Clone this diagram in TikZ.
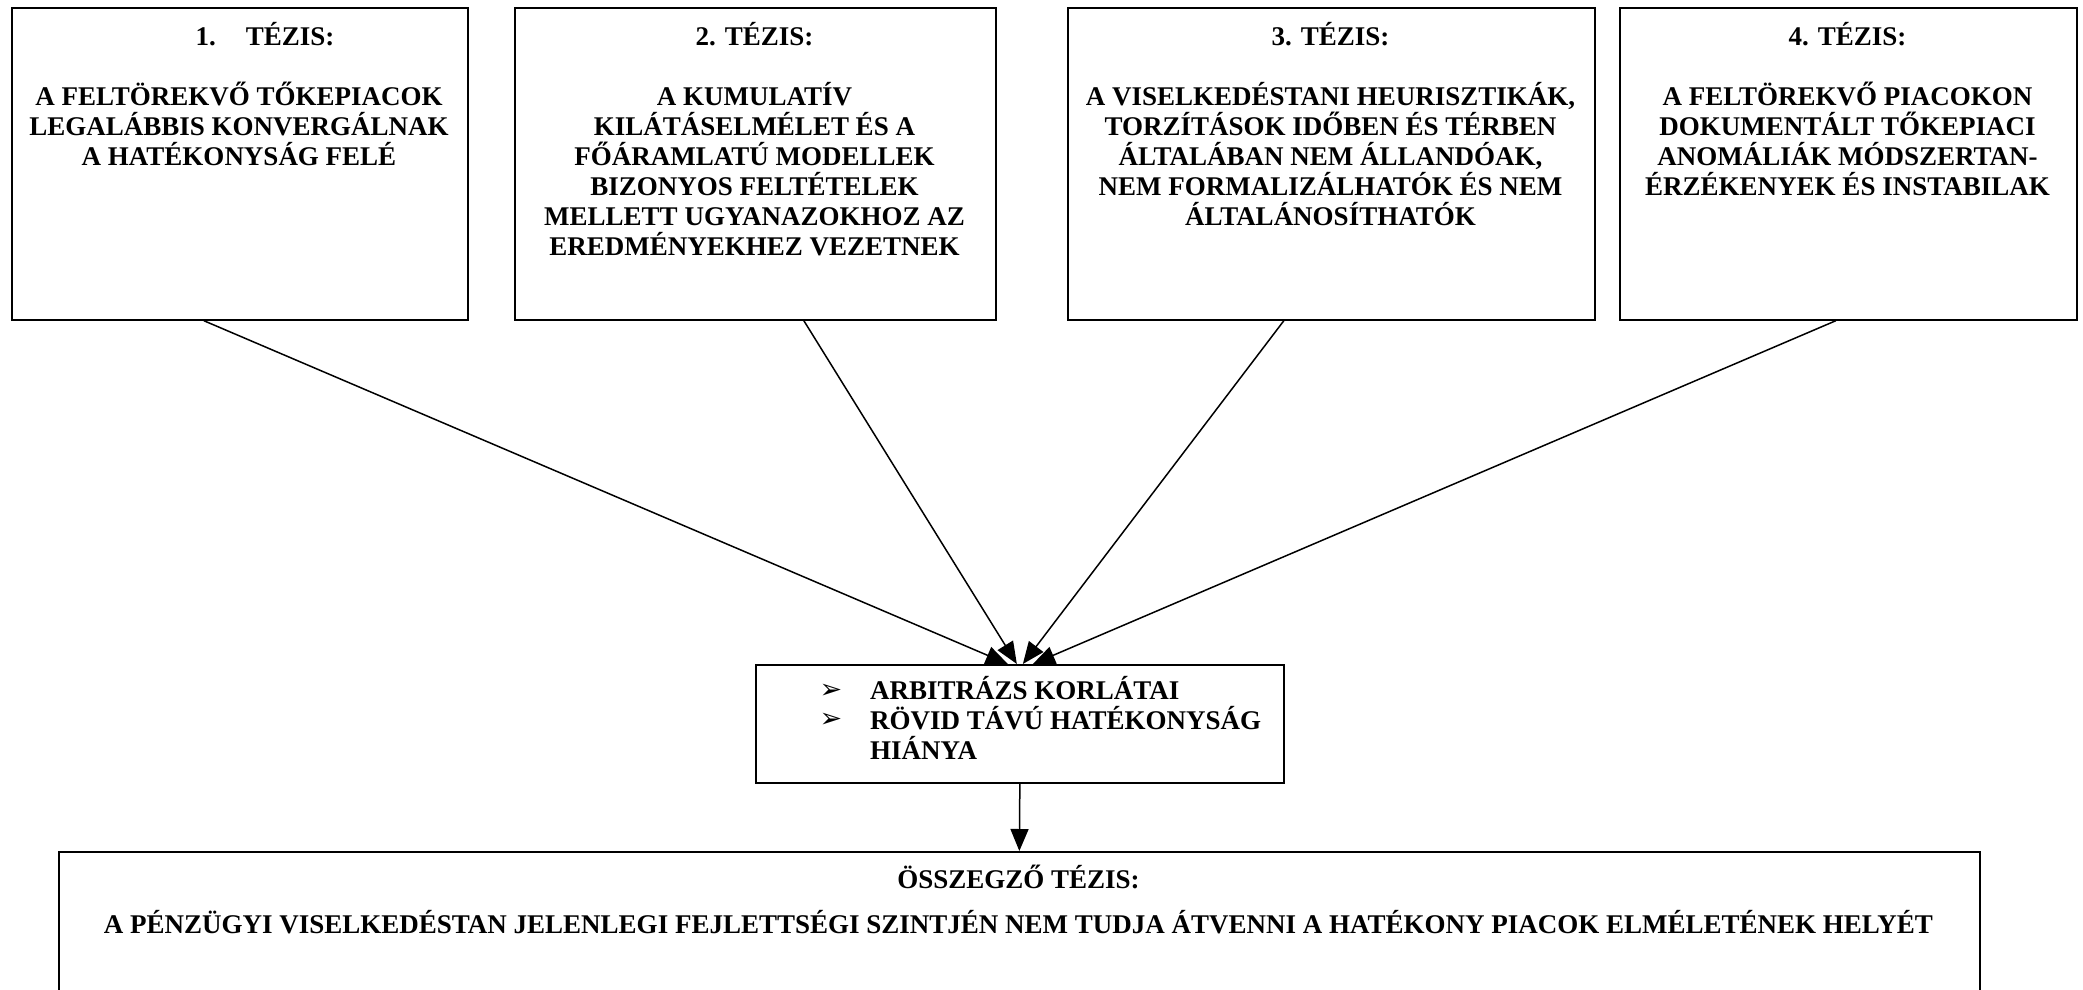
\documentclass[tikz,border=0pt]{standalone}
\usepackage{fontspec}
\setmainfont{Liberation Serif}
\newfontfamily\dejavu{DejaVu Sans}
\usetikzlibrary{arrows.meta,calc}
\newcommand{\tallstrut}{\rule{0pt}{26pt}}
\begin{document}
\begin{tikzpicture}[x=1pt,y=1pt,
  box/.style={draw, line width=1.7pt, inner sep=0pt, anchor=north west},
  txt/.style={inner sep=0pt, align=center, font=\bfseries\fontsize{27}{30}\selectfont},
  ltxt/.style={inner sep=0pt, align=left, font=\bfseries\fontsize{27}{30}\selectfont},
  bullet/.style={inner sep=0pt, font=\dejavu\fontsize{27}{30}\selectfont},
  arr/.style={line width=1.5pt, -{Triangle[length=22pt,width=18pt]}}]
\useasboundingbox (0,0) rectangle (2083,-990);

% boxes
\node[box, minimum width=456pt, minimum height=312pt] (b1) at (11,-7) {};
\node[box, minimum width=481pt, minimum height=312pt] (b2) at (514,-7) {};
\node[box, minimum width=527pt, minimum height=312pt] (b3) at (1067,-7) {};
\node[box, minimum width=457pt, minimum height=312pt] (b4) at (1619,-7) {};
\node[box, minimum width=528pt, minimum height=118pt] (mid) at (755,-664) {};
\node[box, minimum width=1921pt, minimum height=160pt] (sum) at (58,-851) {};

% headings
\node[txt, anchor=base] (h1) at (265,-46) {1.\hspace{30pt}TÉZIS:};
\node[txt, anchor=base] (h2) at (754.5,-46) {2. TÉZIS:};
\node[txt, anchor=base] (h3) at (1330.5,-46) {3. TÉZIS:};
\node[txt, anchor=base] (h4) at (1847.5,-46) {4. TÉZIS:};

% bodies
\node[txt, anchor=north] (t1) at (239,-79.5) {\tallstrut A FELTÖREKVŐ TŐKEPIACOK\\LEGALÁBBIS KONVERGÁLNAK\\A HATÉKONYSÁG FELÉ};
\node[txt, anchor=north] (t2) at (754.5,-79.5) {\tallstrut A KUMULATÍV\\KILÁTÁSELMÉLET ÉS A\\FŐÁRAMLATÚ MODELLEK\\BIZONYOS FELTÉTELEK\\MELLETT UGYANAZOKHOZ AZ\\EREDMÉNYEKHEZ VEZETNEK};
\node[txt, anchor=north] (t3) at (1330.5,-79.5) {\tallstrut A VISELKEDÉSTANI HEURISZTIKÁK,\\TORZÍTÁSOK IDŐBEN ÉS TÉRBEN\\ÁLTALÁBAN NEM ÁLLANDÓAK,\\NEM FORMALIZÁLHATÓK ÉS NEM\\ÁLTALÁNOSÍTHATÓK};
\node[txt, anchor=north] (t4) at (1847.5,-79.5) {\tallstrut A FELTÖREKVŐ PIACOKON\\DOKUMENTÁLT TŐKEPIACI\\ANOMÁLIÁK MÓDSZERTAN-\\ÉRZÉKENYEK ÉS INSTABILAK};

% middle box content
\node[bullet, anchor=base] (m1) at (831,-698) {➢};
\node[bullet, anchor=base] (m2) at (831,-727.5) {➢};
\node[ltxt, anchor=north west] (tm) at (870,-673.5) {\tallstrut ARBITRÁZS KORLÁTAI\\RÖVID TÁVÚ HATÉKONYSÁG\\HIÁNYA};

% summary
\node[txt, anchor=base] (hs) at (1018.5,-888) {ÖSSZEGZŐ TÉZIS:};
\node[txt, anchor=base] (ts) at (1018.5,-933) {A PÉNZÜGYI VISELKEDÉSTAN JELENLEGI FEJLETTSÉGI SZINTJÉN NEM TUDJA ÁTVENNI A HATÉKONY PIACOK ELMÉLETÉNEK HELYÉT};

% connector endpoints
\coordinate (s1) at ([xshift=-36pt]b1.south);
\coordinate (s2) at ([xshift=48.5pt]b2.south);
\coordinate (s3) at ([xshift=-47.5pt]b3.south);
\coordinate (s4) at ([xshift=-12.5pt]b4.south);
\coordinate (e1) at ([xshift=-12pt]mid.north);
\coordinate (e2) at ([xshift=-3pt]mid.north);
\coordinate (e3) at ([xshift=3pt]mid.north);
\coordinate (e4) at ([xshift=13pt]mid.north);

\draw[arr] (s1) -- (e1);
\draw[arr] (s2) -- (e2);
\draw[arr] (s3) -- (e3);
\draw[arr] (s4) -- (e4);
\draw[arr] (mid.south) -- (sum.north);
\end{tikzpicture}
\end{document}
